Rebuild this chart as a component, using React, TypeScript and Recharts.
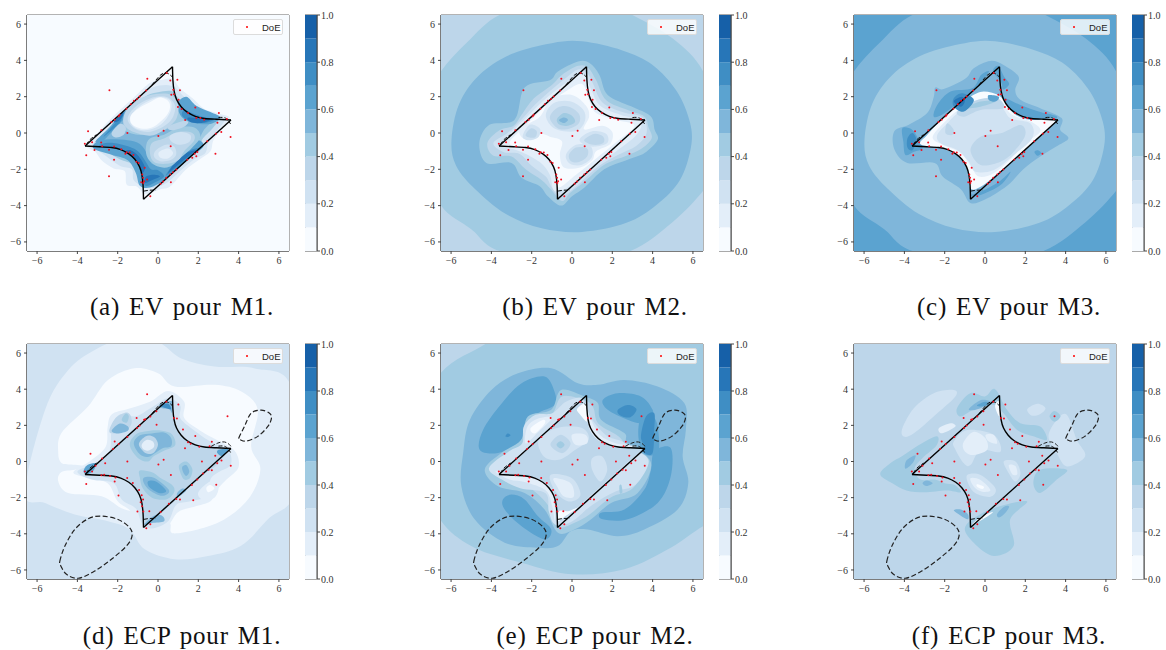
import React from 'react';
import { BarChart, Bar, XAxis, YAxis, ScatterChart, Scatter, ReferenceArea, Legend } from 'recharts';

type Pt = [number, number];
type Layer = { level: number; pts: Pt[] };

const levelColors = ['#f7fbff', '#e3eef9', '#d0e2f2', '#bdd6ea', '#a1cbe2', '#7fb6da', '#5ba3d0', '#3f8ec4', '#2776b8', '#1660a8'];
const axisTicks = [-6, -4, -2, 0, 2, 4, 6];
const colorbarTicks = [0, 0.2, 0.4, 0.6, 0.8, 1];
const frameCorners: Pt[] = [[-7.5, -7.5], [7.5, -7.5], [7.5, 7.5], [-7.5, 7.5]];

const curveTopRight: Pt[] = [[0.72, 3.65], [0.74, 2.9], [0.8, 2.3], [0.92, 1.85], [1.15, 1.45], [1.45, 1.15], [1.85, 0.92], [2.3, 0.8], [2.9, 0.76], [3.62, 0.72]];
const curveBottomLeft: Pt[] = [[-0.72, -3.65], [-0.74, -2.9], [-0.8, -2.3], [-0.92, -1.85], [-1.15, -1.45], [-1.45, -1.15], [-1.85, -0.92], [-2.3, -0.8], [-2.9, -0.76], [-3.62, -0.72]];
const edgeUpper: Pt[] = [[-3.62, -0.72], [0.72, 3.65]];
const edgeLower: Pt[] = [[-0.72, -3.65], [3.62, 0.72]];
const cornerDashes: Pt[][] = [
  [[-0.3, 2.65], [0, 3.05], [0.2, 3.25], [0.45, 3.3], [0.7, 3.1]],
  [[-3.55, -0.65], [-3.38, -0.37], [-3.05, -0.09]],
  [[-0.7, -3.2], [-0.4, -3.15], [-0.1, -3.15]],
  [[3.0, 0.85], [3.35, 0.82], [3.6, 0.5]],
];
const bigDashed: Pt[] = [
  [-4.87, -5.51], [-4.62, -4.68], [-4.13, -3.76], [-3.47, -3.17], [-2.81, -3.02], [-1.98, -3.21], [-1.4, -3.67], [-1.29, -4.13], [-1.57, -4.68],
  [-2.31, -5.41], [-3.14, -6.06], [-3.96, -6.46], [-4.54, -6.24], [-4.82, -5.78],
];
const smallDashed: Pt[] = [[4.01, 1.3], [4.29, 1.94], [4.62, 2.67], [5.12, 2.84], [5.53, 2.67], [5.63, 2.4], [5.45, 1.94], [4.95, 1.39], [4.37, 1.13], [4.09, 1.2]];
const bumpDashed: Pt[] = [[2.64, 0.84], [2.97, 1.02], [3.3, 1.08], [3.55, 0.93], [3.63, 0.8]];

const doeTop: Pt[] = [
  [-2.41, 2.36], [-0.53, 2.99], [0.43, 3.3], [0.61, 2.89], [0.96, 2.93], [1.09, 2.36], [0.76, 2.38], [0.66, 2.11], [0.79, 2.14], [1.02, 1.83],
  [1.85, 1.41], [3.02, 1.1], [3.42, 0.77], [2.95, 0.57], [3.14, 0.05], [3.6, -0.22], [2.85, -1.14], [2.44, -0.46], [2.87, -0.04], [2.29, 0.73],
  [2.1, 0.82], [1.9, 0.82], [1.35, 0.71], [1.49, 1.1], [1.17, 1.32], [0.99, 1.43], [0.28, 0.13], [0.02, -0.16], [-1.52, 0], [-3.47, 0.09],
  [-3.63, -0.59], [-3.27, -0.51], [-2.82, -0.53], [-2.77, -0.73], [-3.56, -1.23], [-3.15, -0.93], [-2.43, -0.92], [-2.18, -0.75], [-2.18, -1.48], [-2.43, -2.38],
  [-1.82, -0.9], [-1.62, -1.14], [-1.55, -1.06], [-1.4, -1.08], [-1.22, -1.21], [-1.07, -1.59], [-0.96, -1.65], [-0.66, -1.92], [-0.78, -2.29], [-0.74, -2.47],
  [-0.69, -2.66], [-0.83, -2.71], [-0.73, -2.75], [-0.54, -2.56], [-0.38, -3.48], [0.63, -0.73], [0.64, -2.71], [0.13, -2.8], [0.25, -2.67], [0.41, -2.47],
  [0.61, -2.29], [0.74, -2.16], [0.91, -2.01], [1.45, -1.47], [1.7, -1.37], [1.9, -1.28], [1.95, -1.04], [1.82, -1.14], [-2.81, 0.15], [-2.31, 0.6],
  [-2.15, 0.73], [-1.95, 0.92], [-1.9, 1.01], [-1.57, 1.34], [-1.35, 1.59], [-1.19, 1.78], [-1.04, 1.87], [-0.91, 2.01], [-0.59, 2.34],
];
const doeBottom: Pt[] = [
  [-0.54, 3.72], [1.01, 3.15], [0.41, 3.3], [0.79, 2.4], [0.94, 2.38], [3.45, 2.51], [-0.08, 2.78], [-0.38, 2.49], [-0.69, 2.31], [-0.63, 2.34],
  [-1.06, 2.4], [-0.07, 2.03], [-1.04, 1.85], [-0.91, 1.99], [-1.52, 1.35], [1.24, 1.77], [1.85, 1.41], [2.67, 1.09], [2.56, 0.84], [2.05, 0.82],
  [1.34, 0.73], [1.62, 0.98], [1.49, 1.06], [-2.15, 1.11], [-1.95, 0.97], [-2.23, 0.69], [-3.35, 0.43], [-2.77, 0.16], [-2.62, -0.1], [-3.1, -0.23],
  [-1.52, 0], [0.28, 0.1], [0.02, -0.17], [2.18, 0], [2.84, 0.32], [3.15, 0.06], [2.94, -0.1], [3.61, -0.23], [2.67, -0.49], [2.51, -0.45],
  [2.23, -0.67], [1.95, -1], [2.89, -1.28], [1.68, -1.3], [0.64, -0.74], [-3.27, -0.56], [-3.63, -0.56], [-3.56, -1.24], [-2.81, -0.76], [-2.67, -0.73],
  [-2.38, -0.8], [-2.11, -0.89], [-2.15, -1.11], [-1.53, -0.91], [-1.96, -1.88], [-1.25, -1.19], [-0.81, -1.87], [-0.74, -2.1], [-0.86, -2.25], [-0.79, -2.47],
  [-1.02, -2.77], [-0.73, -2.77], [-0.43, -2.75], [0.13, -2.8], [-0.58, -3.69], [-0.38, -3.47], [0.91, -2.07], [1.09, -2.1], [1.75, -2.14], [0.54, -2.34], [-0.94, -1.57],
];

// contour bands, painted back to front
const evM1Layers: Layer[] = [
  { level: 1, pts: [[-0.4, 2.75], [0.3, 2.95], [0.75, 2.95], [1.1, 2.45], [1.73, 1.9], [2.3, 1.32], [2.9, 1.1], [3.55, 0.85], [3.2, 0.3], [2.75, -0.4], [2.6, -1.0], [2.0, -1.5], [1.35, -2.05], [0.6, -2.95], [0.1, -3.1], [-0.5, -3.35], [-0.75, -3.3], [-1.05, -2.95], [-1.55, -2.85], [-1.65, -2.1], [-2.2, -1.95], [-2.8, -1.5], [-3.1, -1.05], [-3.55, -0.7], [-3.1, -0.15], [-2.5, 0.6], [-1.9, 1.25], [-1.2, 1.95]] },
  { level: 2, pts: [[-0.3, 2.5], [0.4, 2.65], [0.85, 2.5], [1.2, 2.1], [1.65, 1.7], [2.2, 1.25], [2.9, 0.95], [3.3, 0.7], [2.9, 0.1], [2.5, -0.5], [2.35, -1.1], [1.8, -1.45], [1.1, -2.1], [0.5, -2.7], [-0.1, -3.0], [-0.65, -3.0], [-1.2, -2.6], [-1.3, -2.0], [-1.9, -1.8], [-2.6, -1.25], [-3.1, -0.85], [-3.3, -0.7], [-2.9, -0.2], [-2.2, 0.6], [-1.5, 1.4], [-0.9, 2.0]] },
  { level: 4, pts: [[0.0, 2.25], [0.7, 2.3], [1.05, 1.85], [1.6, 1.35], [2.3, 1.05], [3.0, 0.8], [2.7, 0.25], [2.2, -0.35], [2.1, -0.9], [1.6, -1.35], [1.0, -1.95], [0.4, -2.55], [-0.2, -2.85], [-0.65, -2.75], [-1.0, -2.2], [-1.2, -1.75], [-1.9, -1.45], [-2.5, -1.05], [-3.0, -0.75], [-2.8, -0.3], [-2.1, 0.5], [-1.5, 1.1], [-1.0, 1.7], [-0.5, 2.1]] },
  { level: 5, pts: [[-2.8, -0.4], [-2.2, 0.3], [-1.7, 0.8], [-1.7, 0.2], [-1.0, -0.1], [0, 0.05], [1.0, 0.45], [2.0, 0.8], [2.7, 0.75], [2.3, 0.2], [2.0, -0.4], [1.5, -1.1], [0.8, -1.75], [0.3, -2.45], [-0.3, -2.7], [-0.65, -2.4], [-0.95, -1.7], [-1.5, -1.1], [-2.3, -0.8], [-2.9, -0.7]] },
  { level: 6, pts: [[-3.2, -0.85], [-2.3, -1.2], [-1.5, -1.5], [-1.1, -2.2], [-0.9, -2.9], [-0.4, -3], [0.3, -2.6], [0.7, -2.1], [0.2, -1.85], [-0.3, -1.7], [-0.5, -1.2], [-0.9, -0.6], [-1.5, -0.4], [-2.4, -0.35], [-3, -0.45]] },
  { level: 6, pts: [[0.95, 1.6], [1.4, 2], [1.9, 1.5], [2.6, 1.15], [3.1, 0.85], [2.6, 0.5], [1.8, 0.55], [1.2, 0.85]] },
  { level: 6, pts: [[0.3, -2.5], [1.0, -1.95], [1.6, -1.35], [2.25, -0.75], [2.0, -0.4], [1.5, -0.8], [0.9, -1.25], [0.6, -1.8], [0.2, -2.05]] },
  { level: 6, pts: [[-3.1, -0.45], [-2.4, 0.32], [-1.75, 1.15], [-1.4, 1.2], [-1.75, 0.7], [-2.1, 0.3], [-2.7, -0.4]] },
  { level: 7, pts: [[-2.9, -0.8], [-2.1, -0.85], [-1.45, -1.15], [-0.95, -1.75], [-0.78, -2.4], [-0.62, -2.9], [-0.2, -2.75], [0.3, -2.4], [0, -2.05], [-0.35, -2.0], [-0.6, -1.6], [-0.95, -1.05], [-1.45, -0.75], [-2.2, -0.55], [-2.8, -0.6]] },
  { level: 7, pts: [[1.3, 1.25], [1.8, 1.05], [2.4, 0.85], [2.9, 0.78], [2.3, 0.55], [1.6, 0.65], [1.2, 0.95]] },
  { level: 7, pts: [[0.4, -2.35], [1.0, -1.85], [1.6, -1.3], [2.05, -0.85], [1.6, -0.95], [1.0, -1.4], [0.6, -1.95]] },
  { level: 7, pts: [[-2.7, -0.2], [-2.2, 0.45], [-1.75, 1.05], [-1.85, 0.65], [-2.3, 0.15]] },
  { level: 8, pts: [[-1.7, -1.05], [-1.3, -1.25], [-0.95, -1.7], [-0.8, -2.2], [-0.65, -1.9], [-0.95, -1.3], [-1.35, -0.95]] },
  { level: 8, pts: [[-0.65, -2.75], [-0.3, -2.6], [0.1, -2.4], [-0.2, -2.3], [-0.6, -2.4]] },
  { level: 8, pts: [[1.5, 0.85], [2.2, 0.8], [2.6, 0.72], [2.1, 0.55], [1.6, 0.6]] },
  { level: 8, pts: [[0.5, -2.2], [1, -1.75], [1.6, -1.2], [1.9, -0.95], [1.4, -1.1], [0.9, -1.55]] },
  { level: 8, pts: [[-2.2, 0.6], [-1.85, 1.05], [-1.7, 1.1], [-1.9, 0.7]] },
  { level: 4, pts: [[-0.4, -0.3], [0.3, -0.1], [1.0, 0.3], [1.8, 0.3], [2.1, -0.2], [1.7, -0.8], [1.2, -1.3], [0.6, -1.85], [0, -1.85], [-0.5, -1.4], [-0.6, -0.8]] },
  { level: 3, pts: [[-0.3, -0.55], [0.3, -0.3], [1.0, 0.05], [1.7, 0.0], [1.8, -0.4], [1.3, -1.0], [1.0, -1.5], [0.4, -1.7], [-0.2, -1.6], [-0.4, -1.1]] },
  { level: 2, pts: [[-0.1, -0.95], [0.4, -0.65], [0.8, -0.75], [0.9, -1.2], [0.6, -1.5], [0.1, -1.55], [-0.2, -1.3]] },
  { level: 2, pts: [[0.6, -0.15], [1.1, 0.05], [1.6, -0.1], [1.55, -0.5], [1.05, -0.65], [0.65, -0.45]] },
  { level: 1, pts: [[0.05, -1.05], [0.5, -0.85], [0.75, -1.1], [0.5, -1.4], [0.1, -1.35]] },
  { level: 3, pts: [[-2.3, 0.0], [-1.9, 0.5], [-1.6, 0.3], [-1.7, -0.1], [-2.1, -0.25]] },
  { level: 3, pts: [[0.5, 0.35], [1.2, 0.65], [1.5, 0.6], [1.3, 0.35], [0.7, 0.15]] },
  { level: 3, pts: [[-1.7, 0.5], [-1.6, 1.2], [-1.0, 1.85], [-0.1, 2.15], [0.65, 2.1], [1.0, 1.55], [0.95, 0.9], [0.7, 0.5], [0.2, 0.1], [-0.4, -0.15], [-1.2, 0.05]] },
  { level: 2, pts: [[-1.5, 0.7], [-1.3, 1.25], [-0.8, 1.7], [-0.1, 2.0], [0.5, 1.95], [0.85, 1.5], [0.75, 0.9], [0.45, 0.5], [0, 0.2], [-0.5, 0.05], [-1.1, 0.2]] },
  { level: 1, pts: [[-1.4, 0.8], [-1.05, 1.35], [-0.5, 1.75], [0.1, 1.98], [0.6, 1.8], [0.65, 1.3], [0.35, 0.7], [-0.1, 0.3], [-0.7, 0.15], [-1.2, 0.35]] },
  { level: 0, pts: [[-1.35, 0.95], [-0.9, 1.4], [-0.4, 1.7], [0.1, 1.95], [0.55, 1.7], [0.55, 1.2], [0.2, 0.7], [-0.3, 0.3], [-0.85, 0.25], [-1.3, 0.5]] },
];

const evOuterBand: Pt[] = [[-7.3, 1.6], [-6.5, 3.4], [-5.2, 5.0], [-3.6, 6.5], [-1, 7.3], [1.5, 7.3], [3, 6.5], [5, 5.2], [6.5, 3.4], [7.2, 0.5], [7.1, -2], [6.5, -3.2], [5, -4.9], [2.9, -6.5], [0, -7.2], [-3.6, -6.5], [-5, -5.3], [-6.5, -4.0], [-7.3, -1.5]];
const evInnerOval: Pt[] = [[-5.98, -0.4], [-5.6, 1.6], [-4.6, 3.2], [-3, 4.35], [-1, 4.95], [0.5, 5.05], [2.5, 4.55], [4, 3.75], [5.2, 2.3], [5.85, 0.6], [5.9, -0.8], [5.35, -2.6], [4.2, -3.95], [2.7, -4.95], [0.5, -5.45], [-1.5, -5.25], [-3.3, -4.45], [-4.8, -3.1], [-5.75, -1.8]];

const evM2Layers: Layer[] = [
  { level: 4, pts: evOuterBand },
  { level: 5, pts: evInnerOval },
  { level: 4, pts: [[0.3, 3.94], [-0.7, 3.39], [-1.1, 2.9], [-2.35, 2.5], [-2.85, 0.73], [-4.1, 0.45], [-4.6, -0.55], [-4.25, -1.65], [-3.0, -1.65], [-2.5, -2.47], [-1.6, -2.93], [-1.2, -3.48], [-0.54, -4.0], [0, -3.48], [0.62, -3.0], [1.6, -2.0], [2.76, -1.47], [3.6, -1.1], [4.25, -0.37], [4.1, 0.18], [3.9, 0.92], [2.93, 1.47], [1.77, 2.1], [1.36, 3.2], [0.87, 3.85]] },
  { level: 3, pts: [[0.3, 3.7], [-0.5, 3.2], [-1.0, 2.65], [-1.9, 1.9], [-2.5, 1.0], [-2.9, 0.4], [-3.6, 0.15], [-4.2, -0.55], [-3.9, -1.25], [-3.0, -1.3], [-2.3, -2.0], [-1.5, -2.6], [-1.05, -3.1], [-0.5, -3.75], [-0.1, -3.3], [0.6, -2.7], [1.6, -1.75], [2.7, -1.25], [3.4, -0.9], [3.95, -0.3], [3.8, 0.3], [3.6, 0.9], [2.8, 1.25], [1.7, 1.8], [1.2, 2.9], [0.8, 3.6]] },
  { level: 2, pts: [[0.3, 3.5], [-0.4, 2.95], [-1.0, 2.4], [-1.8, 1.6], [-2.5, 0.75], [-3.2, 0.0], [-3.9, -0.55], [-3.4, -1.05], [-2.6, -1.15], [-2.0, -1.8], [-1.3, -2.4], [-1.0, -3.0], [-0.55, -3.5], [0.2, -2.95], [1.3, -1.85], [2.3, -1.2], [3.2, -0.7], [3.7, 0.0], [3.5, 0.85], [2.5, 1.15], [1.5, 1.7], [1.05, 2.7], [0.75, 3.3]] },
  { level: 1, pts: [[0.3, 3.2], [-0.5, 2.6], [-1.5, 1.7], [-2.4, 0.7], [-3.3, -0.3], [-3.5, -0.7], [-2.6, -1.0], [-1.6, -1.6], [-1.1, -2.3], [-0.85, -3.2], [0, -2.85], [1.1, -1.85], [2.2, -1.0], [3.2, -0.1], [3.4, 0.65], [2.4, 1.0], [1.4, 1.5], [0.95, 2.4], [0.65, 3.1]] },
  { level: 0, pts: [[0.5, 2.7], [-0.3, 2.3], [-1.3, 1.5], [-2.3, 0.4], [-3.1, -0.55], [-2.3, -0.85], [-1.3, -1.2], [-0.9, -2.0], [-0.7, -3.0], [0.2, -2.3], [1.2, -1.4], [2.2, -0.5], [3.1, 0.4], [2.2, 0.72], [1.2, 1.1], [0.85, 1.8]] },
  { level: 1, pts: [[-1.55, 0.95], [-1.0, 1.9], [0, 2.1], [0.7, 1.5], [0.85, 0.9], [0.6, 0.2], [1.5, 0.4], [2.0, 0.05], [1.9, -0.6], [1.2, -1.0], [1.0, -1.5], [0.4, -1.9], [-0.4, -1.9], [-0.6, -1.2], [-0.5, -0.45], [-1.1, -0.2], [-1.6, -0.05], [-2.4, -0.3], [-2.6, 0.2], [-2.0, 0.6]] },
  { level: 2, pts: [[-1.3, 1.0], [-0.9, 1.65], [-0.1, 1.75], [0.55, 1.3], [0.65, 0.7], [0.3, 0.15], [-0.4, 0.1], [-1.0, 0.35]] },
  { level: 2, pts: [[-0.3, -1.2], [0.2, -0.65], [0.9, -0.7], [1.0, -1.3], [0.5, -1.75], [-0.1, -1.7]] },
  { level: 2, pts: [[0.4, -0.3], [1.0, 0.1], [1.7, -0.05], [1.75, -0.55], [1.1, -0.75], [0.55, -0.6]] },
  { level: 2, pts: [[-2.45, -0.2], [-2.1, 0.45], [-1.6, 0.25], [-1.65, -0.2], [-2.1, -0.4]] },
  { level: 3, pts: [[-1.1, 0.85], [-0.7, 1.4], [-0.15, 1.45], [0.35, 1.05], [0.35, 0.55], [-0.1, 0.25], [-0.7, 0.25]] },
  { level: 3, pts: [[-0.15, -1.2], [0.2, -0.8], [0.75, -0.85], [0.75, -1.3], [0.35, -1.6], [-0.05, -1.55]] },
  { level: 3, pts: [[0.6, -0.4], [1.1, -0.05], [1.55, -0.2], [1.55, -0.55], [1.05, -0.65]] },
  { level: 3, pts: [[-2.3, -0.15], [-2.05, 0.25], [-1.75, 0.1], [-1.85, -0.25]] },
  { level: 4, pts: [[-0.75, 0.75], [-0.4, 1.1], [0, 0.95], [0.15, 0.6], [-0.2, 0.4], [-0.6, 0.45]] },
  { level: 5, pts: [[-0.65, 0.7], [-0.4, 0.85], [-0.2, 0.72], [-0.4, 0.55]] },
];

const evM3Layers: Layer[] = [
  { level: 5, pts: evOuterBand },
  { level: 4, pts: evInnerOval },
  { level: 5, pts: [[0.26, 3.97], [-0.56, 3.57], [-0.97, 3.0], [-2.05, 2.42], [-2.46, 2.5], [-2.54, 2.0], [-2.87, 1.1], [-3.78, 0.46], [-4.5, 0.1], [-4.5, -0.9], [-3.86, -1.65], [-2.5, -1.65], [-2.1, -2.4], [-1.2, -3.1], [-0.73, -3.85], [0, -3.66], [1.1, -2.9], [1.9, -2.0], [2.74, -1.3], [3.7, -0.64], [4.14, -0.27], [3.73, 0.18], [3.8, 0.82], [2.74, 1.37], [1.75, 1.83], [1.5, 2.38], [1.67, 3.1], [0.92, 3.75]] },
  { level: 6, pts: [[-2.54, 0.9], [-2.37, 1.54], [-1.71, 2.28], [-0.63, 2.46], [-0.2, 3.2], [0.2, 3.4], [-0.2, 2.8], [-0.97, 2.0], [-2.04, 1.08]] },
  { level: 6, pts: [[0.4, 3.4], [0.65, 3.7], [0.95, 3.1], [1.2, 2.7], [0.9, 2.4], [0.8, 2.8]] },
  { level: 6, pts: [[0.77, 1.91], [1.05, 1.9], [1.76, 1.54], [2.75, 1.15], [3.58, 0.9], [3.08, 0.6], [2.0, 0.85], [1.4, 1.2]] },
  { level: 6, pts: [[-4.1, 0.26], [-3.6, 0.17], [-3.28, -0.39], [-3.1, -0.85], [-3.53, -1.03], [-3.95, -1.21], [-4.05, -0.5]] },
  { level: 7, pts: [[-3.85, -0.3], [-3.6, 0], [-3.4, -0.4], [-3.6, -0.95], [-3.85, -0.8]] },
  { level: 6, pts: [[-0.72, -3.42], [-0.22, -3.42], [0.77, -2.87], [1.27, -2.13], [0.69, -2.68], [-0.22, -3.23]] },
  { level: 6, pts: [[2.45, -1.05], [2.6, -0.95], [2.8, -1.1], [2.6, -1.25]] },
  { level: 0, pts: [[-3.2, -0.62], [-2.2, -0.84], [-1.38, -1.21], [-0.88, -1.95], [-0.72, -3.05], [-0.22, -2.96], [0.44, -2.41], [1.43, -1.49], [2.42, -0.48], [3.5, 0.72], [2.26, 0.72], [1.43, 1.08], [0.77, 2.0], [-0.06, 2.28], [-0.72, 2.0], [-1.38, 1.54], [-2.2, 0.72], [-2.87, -0.11]] },
  { level: 1, pts: [[-2.6, -0.25], [-2.0, 0.6], [-1.3, 1.3], [-0.3, 1.85], [0.7, 1.75], [1.35, 1.0], [2.3, 0.62], [2.75, 0.1], [2.0, -0.55], [1.3, -1.4], [0.45, -2.2], [-0.3, -2.4], [-0.7, -1.85], [-1.2, -1.1], [-2.0, -0.7]] },
  { level: 2, pts: [[-2.37, -0.11], [-1.88, 0.53], [-1.22, 1.18], [-0.22, 1.54], [0.77, 1.45], [1.27, 0.81], [2.26, 0.53], [2.34, -0.29], [1.43, -1.21], [0.44, -2.04], [-0.47, -2.13], [-0.8, -1.58], [-1.38, -0.94], [-2.2, -0.57]] },
  { level: 3, pts: [[-0.72, -0.94], [-0.22, -0.2], [0.77, -0.02], [1.76, 0.44], [2.0, -0.11], [1.43, -1.03], [0.77, -1.58], [-0.22, -1.76]] },
  { level: 3, pts: [[-1.38, 1.18], [-0.39, 1.82], [0.6, 1.91], [0.93, 1.36], [-0.22, 1.27], [-1.05, 0.9]] },
  { level: 4, pts: [[-1.05, 1.36], [-0.22, 1.73], [0.52, 1.73], [-0.22, 1.45]] },
  { level: 3, pts: [[-1.88, 0.53], [-1.55, 0.17], [-1.63, -0.11], [-1.96, -0.02]] },
  { level: 6, pts: [[0.19, 2.09], [0.69, 2.0], [0.52, 1.73], [0.19, 1.82]] },
  { level: 7, pts: [[-1.55, 1.91], [-1.13, 2.19], [-0.55, 1.82], [-1.05, 1.18], [-1.55, 1.45]] },
  { level: 8, pts: [[-1.55, 1.75], [-1.15, 2], [-1, 1.75], [-1.2, 1.45]] },
];

const ecpM1Layers: Layer[] = [
  { level: 1, pts: [[-6.6, -1.74], [-5.6, 2.86], [-4.45, 5.06], [-3.14, 6.17], [-1.65, 6.8], [0, 6.6], [1.16, 5.7], [2.8, 5.25], [4.8, 5.15], [6.6, 4.14], [6.8, -1.55], [5.45, -3.2], [4.1, -4.68], [2.48, -5.23], [0.83, -5.41], [-0.66, -4.86], [-1.4, -3.76], [-2.48, -3.3], [-4.13, -2.93], [-5.6, -2.29]] },
  { level: 0, pts: [[-4.95, 0.47], [-4.79, 1.57], [-3.47, 3.04], [-2.48, 4.51], [-1.16, 5.16], [0, 4.88], [0.83, 4.15], [2.8, 4.24], [4.13, 3.87], [4.95, 2.86], [4.62, 0.84], [5.08, -0.45], [4.46, -2.1], [2.97, -3.39], [0.83, -3.98], [0.58, -3.39], [-0.17, -2.93], [-1.65, -2.66], [-2.8, -1.92], [-4.46, -1.74], [-4.95, -1.09], [-4.79, -0.58], [-4.13, -0.45], [-3.6, -0.27], [-4.3, -0.17], [-4.79, -0.08]] },
  { level: 1, pts: [[0.5, 3.9], [1.3, 3.3], [1.3, 2.4], [2.1, 1.7], [2.9, 1.2], [3.8, 0.6], [4.0, -0.3], [3.4, -1.0], [2.9, -1.6], [2.6, -2.2], [1.8, -2.5], [1.0, -2.8], [0.4, -3.7], [-0.4, -4.0], [-0.9, -3.5], [-1.4, -2.7], [-2.0, -2.2], [-2.5, -1.2], [-3.5, -0.9], [-4.2, -0.6], [-3.4, 0], [-2.6, 0.8], [-2.5, 1.9], [-2.3, 2.6], [-1.5, 2.9], [-0.4, 3.3]] },
  { level: 2, pts: [[0.5, 3.5], [1.1, 3.1], [1.1, 2.4], [1.7, 1.8], [2.6, 1.1], [3.5, 0.6], [3.6, -0.2], [3.0, -0.6], [2.6, -1.0], [2.5, -1.9], [1.6, -2.2], [0.9, -2.4], [0.5, -3.3], [-0.3, -3.7], [-0.8, -3.4], [-1.1, -2.6], [-1.8, -2.1], [-2.2, -1.2], [-3.3, -1.0], [-4.0, -0.55], [-3.1, -0.1], [-2.4, 0.6], [-2.3, 1.9], [-1.9, 2.6], [-1.1, 2.5], [-0.3, 3.0]] },
  { level: 3, pts: [[-3.4, -0.65], [-2.3, 0.6], [-1.2, 1.8], [0.4, 3.2], [0.72, 3.2], [0.8, 2.3], [1.1, 1.5], [1.8, 0.95], [2.8, 0.75], [3.4, 0.6], [2.8, -0.3], [2.0, -0.9], [1.0, -2.0], [0, -3.0], [-0.6, -3.4], [-0.8, -2.4], [-1.1, -1.5], [-1.8, -0.9], [-2.6, -0.75]] },
  { level: 3, pts: [[-2.4, 1.6], [-2.1, 2.4], [-1.5, 2.7], [-1.3, 2.2], [-1.6, 1.7]] },
  { level: 5, pts: [[-2.3, 1.7], [-1.9, 2.1], [-1.5, 1.95], [-1.5, 1.7], [-2.0, 1.55]] },
  { level: 4, pts: [[-1.8, 2.3], [-1.6, 2.65], [-1.45, 2.5], [-1.55, 2.15]] },
  { level: 4, pts: [[-1.4, 0.9], [-1.1, 1.5], [-0.4, 1.7], [0.2, 1.7], [0.7, 1.5], [0.85, 0.9], [0.3, 0.6], [-0.2, 0.3], [-0.5, 0], [-1, 0.2]] },
  { level: 5, pts: [[-1.2, 1], [-0.9, 1.45], [-0.3, 1.55], [0.3, 1.6], [0.65, 1.3], [0.65, 0.85], [0.25, 0.75], [-0.1, 0.5], [-0.5, 0.25], [-0.9, 0.4]] },
  { level: 3, pts: [[-0.95, 0.95], [-0.6, 1.4], [-0.2, 1.35], [0, 0.95], [-0.2, 0.5], [-0.6, 0.45]] },
  { level: 1, pts: [[-0.8, 0.95], [-0.55, 1.2], [-0.25, 1.1], [-0.2, 0.8], [-0.5, 0.6], [-0.75, 0.7]] },
  { level: 4, pts: [[-0.9, -0.5], [-0.3, -0.6], [0.1, -0.9], [0.7, -1.3], [0.8, -1.7], [0.4, -2.1], [-0.3, -2.0], [-0.75, -1.5], [-0.9, -0.9]] },
  { level: 5, pts: [[-0.7, -0.9], [-0.2, -0.9], [0.4, -1.4], [0.55, -1.7], [0.2, -1.9], [-0.4, -1.6], [-0.7, -1.2]] },
  { level: 6, pts: [[-0.5, -1.1], [-0.1, -1.1], [0.4, -1.6], [0.1, -1.75], [-0.4, -1.45]] },
  { level: 4, pts: [[1.05, -0.2], [1.4, 0], [1.7, -0.4], [1.6, -0.9], [1.3, -1.0], [1.1, -0.6]] },
  { level: 5, pts: [[1.2, -0.3], [1.4, -0.2], [1.55, -0.55], [1.4, -0.8], [1.25, -0.6]] },
  { level: 5, pts: [[0.05, 3.1], [0.4, 3.3], [0.72, 3.3], [0.7, 2.7], [0.55, 2.9], [0.2, 2.95]] },
  { level: 7, pts: [[0.1, 3.1], [0.5, 3.2], [0.65, 2.9], [0.4, 2.95]] },
  { level: 6, pts: [[-3.7, -0.55], [-3.5, -0.2], [-3.1, -0.1], [-3.2, -0.5], [-3.5, -0.7]] },
  { level: 6, pts: [[3.0, 0.65], [3.5, 0.7], [3.2, 0.3], [2.95, 0.45]] },
  { level: 5, pts: [[-0.7, -3.5], [-0.3, -3.4], [0.3, -3.3], [0.2, -3.0], [-0.2, -3.0]] },
  { level: 5, pts: [[1.0, -1.95], [1.4, -1.6], [1.2, -1.5], [0.95, -1.75]] },
  { level: 1, pts: [[2.0, -1.7], [2.6, -1.1], [3.0, -1.4], [2.8, -2.0], [2.2, -2.1]] },
  { level: 0, pts: [[2.4, -1.45], [2.6, -1.3], [2.8, -1.5], [2.5, -1.7]] },
];

const ecpM2Layers: Layer[] = [
  { level: 4, pts: [[-6.7, 4.6], [-4.3, 6.5], [-3, 7.4], [3, 7.6], [7.6, 7.2], [7.6, 5.5], [7.6, -3.2], [6.53, -3.57], [4.9, -4.77], [2.6, -5.96], [0, -6.24], [-2.5, -5.6], [-5, -4.68], [-6.7, -2.9], [-7.4, 0.5]] },
  { level: 5, pts: [[-5.4, 0.47], [-5.07, 2.3], [-4, 3.96], [-2.68, 4.88], [-1.03, 5.16], [0.29, 4.33], [1.28, 4.24], [2.6, 4.51], [4.25, 4.15], [5.57, 3.23], [5.65, 1.76], [5.49, 0.28], [5.77, -1.19], [5.24, -2.66], [3.59, -3.76], [2.27, -4.13], [0.78, -3.76], [-0.04, -3.85], [-0.7, -4.68], [-1.7, -4.77], [-3.34, -4.49], [-4.83, -3.2], [-5.49, -1.37]] },
  { level: 6, pts: [[-4.58, 0.65], [-4.41, 1.76], [-3.5, 3.2], [-2.5, 4.33], [-1.36, 4.7], [-0.87, 3.87], [-0.87, 3.13], [-1.7, 2.67], [-2.35, 1.94], [-2.6, 1.02], [-3.67, 0.47]] },
  { level: 6, pts: [[1.53, 3.41], [2.27, 3.78], [3.42, 3.6], [4.0, 2.86], [3.9, 2.4], [3.42, 2.12], [2.76, 2.31], [1.77, 2.86]] },
  { level: 6, pts: [[1.44, -2.84], [2.6, -2.66], [3.59, -1.55], [3.92, -0.45], [4.08, 0.56], [4.9, 0.74], [4.9, -0.82], [4.25, -2.29], [2.76, -3.2], [1.53, -3.2]] },
  { level: 6, pts: [[3.42, 2.4], [4.08, 2.4], [4.3, 1.5], [4.25, 0.5], [3.6, 0.4], [3.3, 1.3]] },
  { level: 7, pts: [[3.59, 0.84], [3.42, 1.39], [3.67, 2.49], [4.08, 2.67], [4.08, 1.76], [4.0, 0.47], [3.59, 0.47]] },
  { level: 7, pts: [[2.27, 2.85], [2.76, 3.13], [3.2, 2.9], [2.9, 2.45], [2.4, 2.55]] },
  { level: 6, pts: [[-3.43, -2.1], [-3.0, -1.83], [-2.35, -2.1], [-1.7, -3.02], [-1.03, -3.76], [-1.36, -4.31], [-2.5, -3.58], [-3.34, -2.66]] },
  { level: 7, pts: [[-3.3, 1.4], [-3.2, 1.55], [-3.05, 1.45], [-3.2, 1.35]] },
  { level: 4, pts: [[-0.54, 3.96], [-1.03, 2.86], [-2.19, 2.49], [-2.52, 1.2], [-3.51, 0.47], [-4.33, -0.45], [-3.67, -1.37], [-2.35, -1.74], [-1.36, -2.66], [-0.7, -3.94], [0.12, -3.76], [0.95, -3.2], [1.94, -2.29], [3.26, -1.74], [3.92, -0.08], [2.76, 1.02], [2.6, 1.57], [1.44, 2.31], [1.28, 3.23], [0.62, 3.6]] },
  { level: 3, pts: [[-0.5, 3.6], [-1, 2.6], [-1.9, 2.2], [-2.2, 1.1], [-3.2, 0.3], [-3.9, -0.5], [-3.3, -1.1], [-2.2, -1.4], [-1.2, -2.4], [-0.7, -3.6], [0.1, -3.4], [0.9, -2.9], [1.9, -2], [3, -1.5], [3.6, -0.2], [2.7, 0.85], [2.3, 1.4], [1.3, 2.1], [1.05, 3], [0.6, 3.4]] },
  { level: 2, pts: [[-0.98, 2.67], [-1.81, 2.58], [-2.39, 1.94], [-2.47, 1.01], [-3.14, 0.55], [-4.12, -0.37], [-3.45, -1.01], [-2.57, -1.48], [-1.31, -1.75], [-1.15, -2.77], [-0.82, -3.5], [0, -3.32], [1.0, -2.4], [2.16, -1.66], [3.15, -1.29], [3.81, 0], [3.15, 0.65], [2.49, 1.11], [1.66, 1.48], [0.83, 2.58], [0.5, 3.5], [-0.3, 3.3]] },
  { level: 1, pts: [[-2.3, 1.0], [-2.2, 1.95], [-1.6, 2.4], [-1.0, 2.4], [-1.7, 1.6]] },
  { level: 0, pts: [[-2.05, 1.85], [-1.45, 2.3], [-1.35, 2.1], [-1.85, 1.55]] },
  { level: 1, pts: [[-3.8, -0.55], [-3.1, -1.0], [-2.3, -1.15], [-1.3, -1.6], [-1.0, -2.4], [-0.85, -3.3], [-0.9, -2.0], [-1.3, -1.2], [-2.2, -0.85], [-3.0, -0.75]] },
  { level: 1, pts: [[0.75, 2.9], [0.95, 2.3], [1.4, 1.45], [2.2, 1.0], [3.2, 0.85], [2.2, 0.8], [1.3, 1.15], [0.85, 1.9]] },
  { level: 3, pts: [[-3.4, -0.65], [-2.3, 0.55], [-1.2, 1.7], [0.3, 3.2], [0.7, 3.1], [0.75, 2.3], [1.0, 1.5], [1.7, 0.95], [2.8, 0.75], [3.5, 0.7], [2.7, -0.1], [1.9, -0.9], [1, -1.8], [0, -2.8], [-0.65, -3.3], [-0.75, -2.4], [-1, -1.5], [-1.7, -0.95], [-2.6, -0.78]] },
  { level: 0, pts: [[0.25, 2.9], [0.65, 3.2], [0.75, 2.7], [0.75, 2.2], [0.4, 2.6]] },
  { level: 0, pts: [[-0.7, -3.3], [-0.3, -3.0], [0.3, -2.55], [-0.2, -2.75], [-0.65, -2.75]] },
  { level: 2, pts: [[-1.65, 1.2], [-0.74, 1.85], [0.5, 1.85], [0.83, 1.2], [0.17, 0.65], [-0.65, 0.09], [-1.4, 0.28]] },
  { level: 1, pts: [[0, 1.48], [0.67, 1.48], [0.75, 1.01], [0.17, 0.92]] },
  { level: 3, pts: [[-1.07, 0.92], [-0.57, 1.48], [-0.07, 1.01], [-0.49, 0.46]] },
  { level: 4, pts: [[-0.77, 0.92], [-0.57, 1.12], [-0.37, 0.92], [-0.57, 0.72]] },
  { level: 2, pts: [[-1.07, -0.74], [0, -0.92], [0.42, -1.85], [-0.16, -2.21], [-0.82, -1.66]] },
  { level: 1, pts: [[-0.9, -0.92], [-0.07, -1.2], [0.09, -1.94], [-0.4, -1.94], [-0.74, -1.38]] },
  { level: 2, pts: [[1, 0.18], [1.5, 0.28], [1.75, -0.46], [1.41, -1.11], [1, -0.46]] },
  { level: 4, pts: [[2.35, -1.35], [2.45, -1.3], [2.5, -1.7], [2.38, -1.75]] },
];

const ecpM3Layers: Layer[] = [
  { level: 2, pts: [[-4.1, 1.84], [-3.53, 2.95], [-2.54, 3.78], [-1.55, 3.96], [-1.47, 3.6], [-2.37, 2.67], [-3.53, 1.56], [-4.03, 1.38]] },
  { level: 2, pts: [[2.1, 2.9], [2.6, 3.2], [3.0, 2.95], [2.7, 2.6], [2.3, 2.55]] },
  { level: 2, pts: [[3.56, 2.3], [4.06, 2.58], [4.55, 1.2], [4.97, 0.29], [4.06, -0.27], [3.56, 0.47], [3.15, 1.39]] },
  { level: 4, pts: [[-5.2, -0.7], [-4.7, -0.1], [-4.1, 0.3], [-3.3, 0.9], [-2.4, 1.4], [-2.4, 0.9], [-3.1, 0.2], [-3.5, -0.4], [-3.2, -1], [-2.5, -1], [-2, -1.2], [-1.5, -1.3], [-1.2, -1.7], [-1.9, -1.6], [-3, -1.7], [-3.9, -1.6], [-4.6, -1.2]] },
  { level: 5, pts: [[-3.95, -0.4], [-3.9, 0.05], [-3.45, 0.35], [-3.6, -0.1]] },
  { level: 5, pts: [[-3.1, -1.2], [-2.9, -1.05], [-2.6, -1.2], [-2.9, -1.35]] },
  { level: 4, pts: [[-0.97, -3.58], [0.26, -2.66], [2.08, -2.2], [1.25, -3.2], [1.42, -4.68], [0.43, -5.23], [-0.56, -4.5]] },
  { level: 5, pts: [[0.6, -2.9], [0.95, -2.5], [1.2, -2.5], [1, -2.85], [0.7, -3.1]] },
  { level: 5, pts: [[-1.55, -2.7], [-1.2, -3.0], [-0.85, -3.2], [-0.85, -2.9], [-1.2, -2.65]] },
  { level: 4, pts: [[-1.39, 2.95], [-0.73, 3.78], [0, 3.6], [0.5, 4.0], [1.09, 2.86], [1.75, 2.12], [2.74, 1.94], [3.07, 1.2], [2.4, 1.39], [1.58, 1.76], [0.92, 2.67], [0.43, 3.13], [-0.56, 2.86], [-1.22, 2.49]] },
  { level: 5, pts: [[-0.8, 2.9], [-0.2, 3.4], [0.3, 3.3], [0.0, 3.05], [-0.5, 2.85]] },
  { level: 6, pts: [[-0.4, 3.1], [0, 3.3], [0.2, 3.2], [-0.1, 3.05]] },
  { level: 4, pts: [[2.74, -0.45], [4.06, -0.45], [3.56, -1], [2.74, -1.74], [2.4, -1.19]] },
  { level: 4, pts: [[3.2, 2.5], [3.45, 2.8], [3.75, 2.5], [3.45, 2.2]] },
  { level: 1, pts: [[-2.29, 1.84], [-1.71, 2.12], [-1.47, 1.93], [-2.13, 1.56]] },
  { level: 2, pts: [[-1.55, 1.1], [-0.88, 1.74], [0.44, 1.47], [0.77, 0.54], [-0.22, 0.64], [-0.72, -0.2], [-1.05, -0.1], [-1.46, 0.64]] },
  { level: 1, pts: [[-1.05, 1.1], [-0.55, 1.65], [0.02, 1.28], [0.1, 0.64], [-0.64, 0.36], [-1.05, 0.64]] },
  { level: 1, pts: [[0.03, 1.47], [0.44, 1.47], [0.6, 1.0], [0.19, 1.1]] },
  { level: 2, pts: [[-0.88, -0.75], [-0.22, -0.75], [0.52, -1.49], [0.27, -1.95], [-0.47, -1.76], [-0.8, -1.3]] },
  { level: 1, pts: [[-0.72, -0.93], [-0.22, -1.02], [0.27, -1.58], [-0.14, -1.67], [-0.55, -1.39]] },
  { level: 0, pts: [[-0.39, -1.26], [-0.06, -1.39], [-0.14, -1.52], [-0.39, -1.39]] },
  { level: 2, pts: [[0.93, 0], [1.51, 0], [1.76, -0.65], [1.51, -1.11], [1.18, -0.65]] },
  { level: 1, pts: [[1.18, -0.2], [1.51, -0.25], [1.6, -0.7], [1.35, -0.7]] },
  { level: 0, pts: [[0.5, 3.05], [0.68, 3.35], [0.78, 2.8], [0.7, 2.5]] },
  { level: 0, pts: [[-0.65, -3.5], [-0.2, -3.05], [0.4, -2.8], [-0.1, -3.2]] },
];

const toXY = (pts: Pt[]) => pts.map(([x, y]) => ({ x, y }));
const noDot = () => null;
const minus = (v: number) => String(v).replace('-', '\u2212');
const axisFont = { fontFamily: 'Liberation Serif', fontSize: 10, fill: '#333' };

// closed Catmull-Rom curve so a contour passes through its traced points
const closedSpline = (ctx: any) => {
  let p: Pt[] = [];
  return {
    areaStart() {},
    areaEnd() {},
    lineStart() { p = []; },
    point(x: number, y: number) { p.push([x, y]); },
    lineEnd() {
      const n = p.length;
      if (!n) return;
      ctx.moveTo(p[0][0], p[0][1]);
      for (let i = 0; i < n; i++) {
        const a = p[(i + n - 1) % n], b = p[i], c = p[(i + 1) % n], d = p[(i + 2) % n];
        ctx.bezierCurveTo(b[0] + (c[0] - a[0]) / 6, b[1] + (c[1] - a[1]) / 6, c[0] - (d[0] - b[0]) / 6, c[1] - (d[1] - b[1]) / 6, c[0], c[1]);
      }
      ctx.closePath();
    },
  };
};

const DoeLegend = (props: any) => {
  const items = (props.payload || []).filter((p: any) => p.value === 'DoE');
  return (
    <div style={{ width: 50, height: 16, background: 'rgba(255,255,255,0.8)', border: '1px solid #dcdcdc', borderRadius: 2, boxSizing: 'border-box', display: 'flex', alignItems: 'center', fontFamily: 'Liberation Sans', fontSize: 9.5, color: '#222' }}>
      {items.map((p: any) => (
        <React.Fragment key={p.value}>
          <span style={{ width: 2.5, height: 2.5, borderRadius: '50%', background: 'red', marginLeft: 12, marginRight: 14 }} />
          <span>{p.value}</span>
        </React.Fragment>
      ))}
    </div>
  );
};

type PanelProps = {
  left: number; top: number; width: number; height: number;
  background: number; layers: Layer[]; doe: Pt[]; dashed: boolean; caption: string; captionX: number; captionY: number;
};

const Panel = ({ left, top, width, height, background, layers, doe, dashed, caption, captionX, captionY }: PanelProps) => (
  <>
    <div style={{ position: 'absolute', left: left - 30, top: top - 5 }}>
      <ScatterChart width={width + 35} height={height + 30} margin={{ top: 5, right: 5, bottom: 0, left: 0 }}>
        <XAxis type="number" dataKey="x" domain={[-6.5, 6.5]} ticks={axisTicks} allowDataOverflow height={25} tickSize={3} tick={axisFont} tickFormatter={minus} stroke="#444" tickMargin={3} />
        <YAxis type="number" dataKey="y" domain={[-6.5, 6.5]} ticks={axisTicks} allowDataOverflow width={30} tickSize={3} tick={axisFont} tickFormatter={minus} stroke="#444" tickMargin={3} />
        <Scatter data={toXY(frameCorners)} legendType="none" shape={noDot} lineJointType="linearClosed" line={{ fill: levelColors[background], stroke: 'none' }} isAnimationActive={false} />
        {layers.map((layer, i) => (
          <Scatter key={i} data={toXY(layer.pts)} legendType="none" shape={noDot} lineJointType={closedSpline as any} line={{ fill: levelColors[layer.level], stroke: 'none' }} isAnimationActive={false} />
        ))}
        {cornerDashes.map((d, i) => (
          <Scatter key={i} data={toXY(d)} legendType="none" shape={noDot} lineJointType="natural" line={{ stroke: '#111', strokeWidth: 1, strokeDasharray: '4 2', fill: 'none' }} isAnimationActive={false} />
        ))}
        {dashed && <Scatter data={toXY(bigDashed)} legendType="none" shape={noDot} lineJointType={closedSpline as any} line={{ stroke: '#222', strokeWidth: 1.2, strokeDasharray: '5 2.5', fill: 'none' }} isAnimationActive={false} />}
        {dashed && <Scatter data={toXY(smallDashed)} legendType="none" shape={noDot} lineJointType={closedSpline as any} line={{ stroke: '#222', strokeWidth: 1.2, strokeDasharray: '5 2.5', fill: 'none' }} isAnimationActive={false} />}
        {dashed && <Scatter data={toXY(bumpDashed)} legendType="none" shape={noDot} lineJointType="natural" line={{ stroke: '#222', strokeWidth: 1, strokeDasharray: '4 2', fill: 'none' }} isAnimationActive={false} />}
        {[edgeUpper, edgeLower].map((d, i) => (
          <Scatter key={i} data={toXY(d)} legendType="none" shape={noDot} line={{ stroke: '#000', strokeWidth: 1.4, fill: 'none' }} isAnimationActive={false} />
        ))}
        {[curveTopRight, curveBottomLeft].map((d, i) => (
          <Scatter key={i} data={toXY(d)} legendType="none" shape={noDot} lineJointType="natural" line={{ stroke: '#000', strokeWidth: 1.4, fill: 'none' }} isAnimationActive={false} />
        ))}
        <Scatter name="DoE" data={toXY(doe)} fill="red" isAnimationActive={false} shape={(p: any) => <circle cx={p.cx} cy={p.cy} r={1} fill="#f01020" />} />
        <ReferenceArea x1={-6.5} x2={6.5} y1={-6.5} y2={6.5} fill="none" stroke="#666" strokeWidth={1} />
        <Legend layout="horizontal" align="center" verticalAlign="middle" wrapperStyle={{ left: width + 30 - 56, top: 9, width: 50 }} content={DoeLegend} />
      </ScatterChart>
    </div>
    <div style={{ position: 'absolute', left: captionX - 150, width: 300, top: captionY, textAlign: 'center', fontFamily: 'Liberation Serif', fontSize: 25, letterSpacing: 0.8, wordSpacing: 2, color: '#111', whiteSpace: 'nowrap' }}>{caption}</div>
  </>
);

const colorbarRow = [{ name: 'cb', b0: 0.1, b1: 0.1, b2: 0.1, b3: 0.1, b4: 0.1, b5: 0.1, b6: 0.1, b7: 0.1, b8: 0.1, b9: 0.1 }];
const colorbarKeys = ['b0', 'b1', 'b2', 'b3', 'b4', 'b5', 'b6', 'b7', 'b8', 'b9'];

const Colorbar = ({ left, top, height }: { left: number; top: number; height: number }) => (
  <div style={{ position: 'absolute', left, top: top - 6 }}>
    <BarChart width={42} height={height + 12} data={colorbarRow} margin={{ top: 6, right: 0, bottom: 6, left: 0 }} barCategoryGap={0}>
      <XAxis dataKey="name" hide />
      <YAxis orientation="right" type="number" domain={[0, 1]} ticks={colorbarTicks} width={30} tickSize={3} tick={axisFont} tickFormatter={(v: number) => v.toFixed(1)} stroke="#444" tickMargin={1} />
      {colorbarKeys.map((k, i) => (
        <Bar key={k} dataKey={k} stackId="cb" fill={levelColors[i]} isAnimationActive={false} />
      ))}
      <ReferenceArea y1={0} y2={1} fill="none" stroke="#555" strokeWidth={1} />
    </BarChart>
  </div>
);

export default function App() {
  return (
    <div style={{ position: 'absolute', left: 0, top: 0, width: 1166, height: 650, background: '#fff', overflow: 'hidden' }}>
      <Panel left={26.5} top={15} width={262} height={236} background={0} layers={evM1Layers} doe={doeTop} dashed={false} caption="(a) EV pour M1." captionX={182} captionY={293} />
      <Panel left={440.5} top={15} width={262} height={236} background={3} layers={evM2Layers} doe={doeTop} dashed={false} caption="(b) EV pour M2." captionX={595} captionY={293} />
      <Panel left={853.5} top={15} width={262} height={236} background={6} layers={evM3Layers} doe={doeTop} dashed={false} caption="(c) EV pour M3." captionX={1009} captionY={293} />
      <Panel left={26.5} top={344} width={262} height={235} background={2} layers={ecpM1Layers} doe={doeBottom} dashed caption="(d) ECP pour M1." captionX={182} captionY={622} />
      <Panel left={440.5} top={344} width={262} height={235} background={3} layers={ecpM2Layers} doe={doeBottom} dashed caption="(e) ECP pour M2." captionX={595} captionY={622} />
      <Panel left={853.5} top={344} width={262} height={235} background={3} layers={ecpM3Layers} doe={doeBottom} dashed caption="(f) ECP pour M3." captionX={1009} captionY={622} />
      <Colorbar left={304.5} top={15} height={236} />
      <Colorbar left={718.5} top={15} height={236} />
      <Colorbar left={1131.5} top={15} height={236} />
      <Colorbar left={304.5} top={344} height={235} />
      <Colorbar left={718.5} top={344} height={235} />
      <Colorbar left={1131.5} top={344} height={235} />
    </div>
  );
}
